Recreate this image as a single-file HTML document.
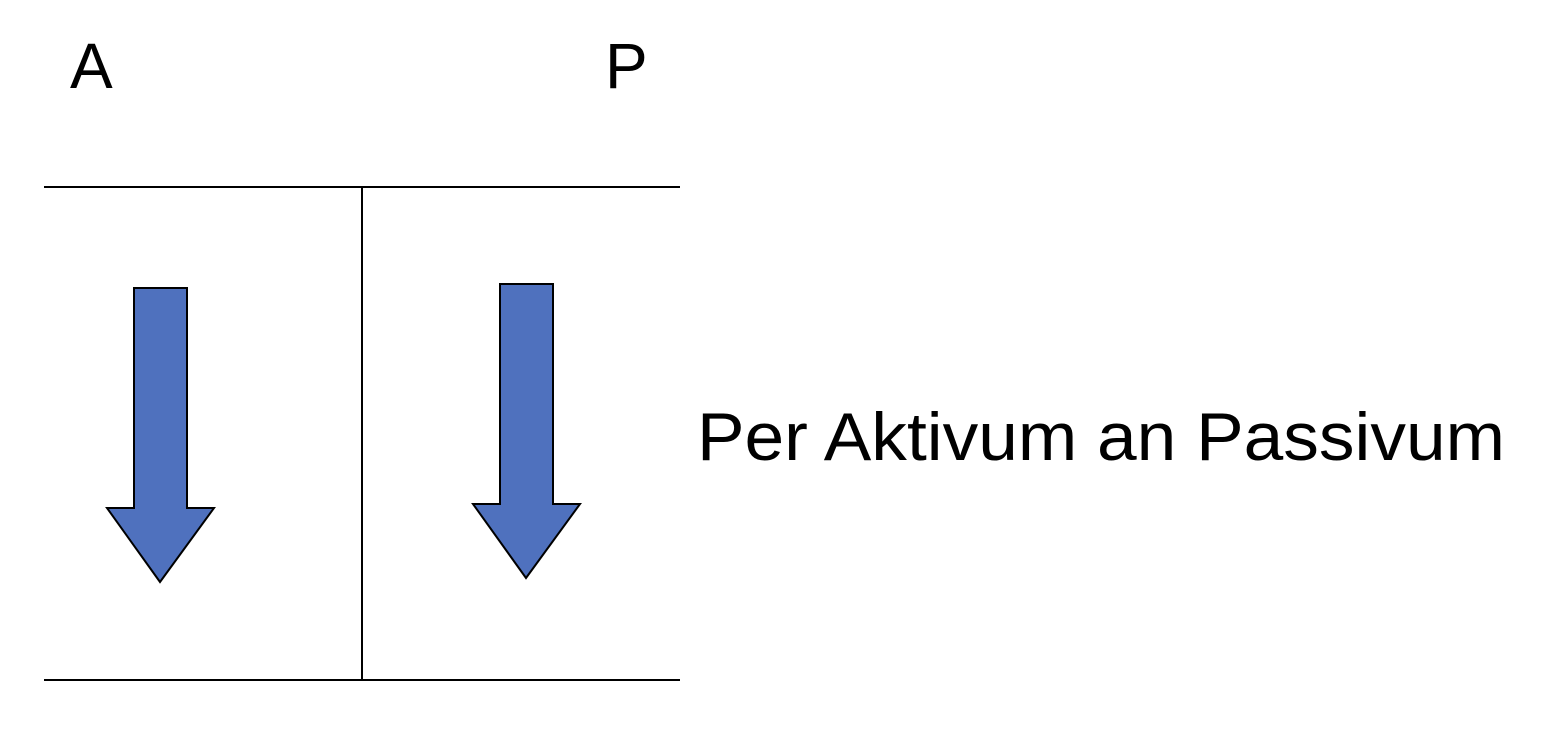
<!DOCTYPE html>
<html><head><meta charset="utf-8"><style>html,body{margin:0;padding:0;background:#fff}svg{display:block}</style></head>
<body>
<svg width="1568" height="740" viewBox="0 0 1568 740" font-family="'Liberation Sans', sans-serif">
<text x="70" y="88" font-size="64" fill="#000">A</text>
<text x="605" y="88" font-size="64" fill="#000">P</text>
<line x1="44" y1="187" x2="680" y2="187" stroke="#000" stroke-width="2"/>
<line x1="44" y1="680" x2="680" y2="680" stroke="#000" stroke-width="2"/>
<line x1="362" y1="187" x2="362" y2="680" stroke="#000" stroke-width="2"/>
<polygon points="134,288 187,288 187,508 214,508 160,582 107,508 134,508" fill="#4F71BE" stroke="#000" stroke-width="2"/>
<polygon points="500,284 553,284 553,504 580,504 526,578 473,504 500,504" fill="#4F71BE" stroke="#000" stroke-width="2"/>
<text x="697" y="460" font-size="68" fill="#000" textLength="808" lengthAdjust="spacingAndGlyphs">Per Aktivum an Passivum</text>
</svg>
</body></html>
